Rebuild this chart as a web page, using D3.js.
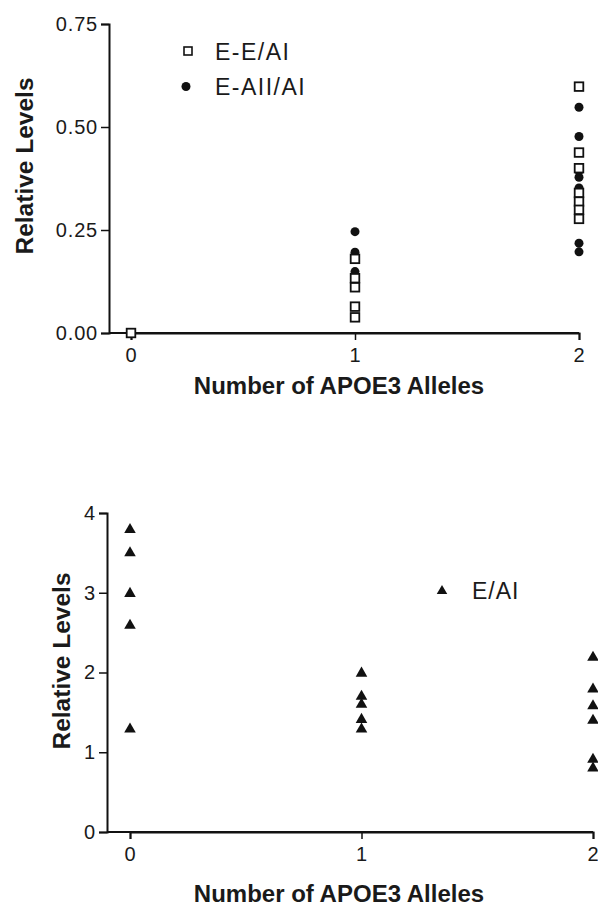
<!DOCTYPE html>
<html><head><meta charset="utf-8">
<script src="https://cdn.jsdelivr.net/npm/d3@7"></script>
<style>
html,body{margin:0;padding:0;background:#fff;}
svg{display:block;}
text{font-family:"Liberation Sans",Arial,sans-serif;fill:#1a1a1a;}
</style></head>
<body>
<script>
// ---- data ----
const xCategories = [0, 1, 2];
const topYTicks = [0, 0.25, 0.5, 0.75];
const bottomYTicks = [0, 1, 2, 3, 4];
// E-E/AI (open squares)
const eeX = [0, 1, 1, 1, 1, 1, 2, 2, 2, 2, 2, 2, 2];
const eeY = [0, 0.18, 0.133, 0.111, 0.064, 0.038, 0.598, 0.438, 0.40, 0.34, 0.319, 0.299, 0.277];
// E-AII/AI (filled circles)
const eaX = [1, 1, 1, 2, 2, 2, 2, 2, 2, 2];
const eaY = [0.246, 0.196, 0.149, 0.548, 0.477, 0.378, 0.352, 0.393, 0.218, 0.197];
// E/AI (filled triangles)
const eX = [0, 0, 0, 0, 0, 1, 1, 1, 1, 1, 2, 2, 2, 2, 2, 2];
const eY = [3.79, 3.5, 2.99, 2.59, 1.29, 1.99, 1.7, 1.6, 1.41, 1.29, 2.19, 1.79, 1.58, 1.4, 0.91, 0.8];

const svg = d3.select("body").append("svg").attr("width", 598).attr("height", 906);

function drawAxes(g, x, y, yTicks, fmt, x0, yTitleX, yTitleY, xTitleY) {
  const xa = g.append("g").attr("transform", `translate(0,${y(0)})`)
    .call(d3.axisBottom(x).tickValues(xCategories).tickFormat(d3.format("d")).tickSizeOuter(0).tickSize(7).tickPadding(8));
  const ya = g.append("g").attr("transform", `translate(${x0},0)`)
    .call(d3.axisLeft(y).tickValues(yTicks).tickFormat(fmt).tickSizeOuter(0).tickSize(8).tickPadding(3));
  [xa, ya].forEach(a => {
    a.select(".domain").attr("stroke", "#111").attr("stroke-width", 2);
    a.selectAll(".tick line").attr("stroke", "#111").attr("stroke-width", 1.5);
    a.selectAll(".tick text").style("font-size", "20px").style("letter-spacing", "0.8px").attr("fill", "#1a1a1a");
  });
  // extend x axis line to y axis
  g.append("line").attr("x1", x0).attr("x2", x(2)).attr("y1", y(0)).attr("y2", y(0))
    .attr("stroke", "#111").attr("stroke-width", 2);
  g.append("text").attr("transform", `translate(${yTitleX},${yTitleY}) rotate(-90)`)
    .attr("text-anchor", "middle").style("font-size", "24.5px").style("font-weight", "bold")
    .text("Relative Levels");
  g.append("text").attr("x", 339).attr("y", xTitleY)
    .attr("text-anchor", "middle").style("font-size", "24px").style("font-weight", "bold")
    .text("Number of APOE3 Alleles");
}

// ---- top chart ----
const gTop = svg.append("g");
const xT = d3.scaleLinear().domain([0, 2]).range([131, 579]);
const yT = d3.scaleLinear().domain([0, 0.75]).range([333, 24]);
drawAxes(gTop, xT, yT, topYTicks, d3.format(".2f"), 109, 33, 166, 393.5);

gTop.selectAll("circle.ea").data(eaX.map((d, i) => [d, eaY[i]])).join("circle")
  .attr("class", "ea").attr("cx", d => xT(d[0])).attr("cy", d => yT(d[1])).attr("r", 4.5)
  .attr("fill", "#111");
gTop.selectAll("rect.ee").data(eeX.map((d, i) => [d, eeY[i]])).join("rect")
  .attr("class", "ee").attr("x", d => xT(d[0]) - 4.3).attr("y", d => yT(d[1]) - 4.3)
  .attr("width", 8.6).attr("height", 8.6).attr("fill", "#fff").attr("stroke", "#111").attr("stroke-width", 1.8);

// top legend
gTop.append("rect").attr("x", 184).attr("y", 47).attr("width", 8).attr("height", 8)
  .attr("fill", "#fff").attr("stroke", "#111").attr("stroke-width", 1.6);
gTop.append("text").attr("x", 215).attr("y", 59.5).style("font-size", "23px").style("letter-spacing", "1.5px").text("E-E/AI");
gTop.append("circle").attr("cx", 186).attr("cy", 86.5).attr("r", 4.5).attr("fill", "#111");
gTop.append("text").attr("x", 215).attr("y", 95).style("font-size", "23px").style("letter-spacing", "1.5px").text("E-AII/AI");

// ---- bottom chart ----
const gBot = svg.append("g");
const xB = d3.scaleLinear().domain([0, 2]).range([130, 593]);
const yB = d3.scaleLinear().domain([0, 4]).range([832, 513]);
drawAxes(gBot, xB, yB, bottomYTicks, d3.format("d"), 107, 70, 661, 902);

const tri = d3.symbol().type(d3.symbolTriangle).size(58);
gBot.selectAll("path.e").data(eX.map((d, i) => [d, eY[i]])).join("path")
  .attr("class", "e").attr("d", tri)
  .attr("transform", d => `translate(${xB(d[0])},${yB(d[1])})`).attr("fill", "#111");

// bottom legend
gBot.append("path").attr("d", d3.symbol().type(d3.symbolTriangle).size(48))
  .attr("transform", "translate(442,591)").attr("fill", "#111");
gBot.append("text").attr("x", 472).attr("y", 599).style("font-size", "23px").style("letter-spacing", "1px").text("E/AI");
</script>
</body></html>
